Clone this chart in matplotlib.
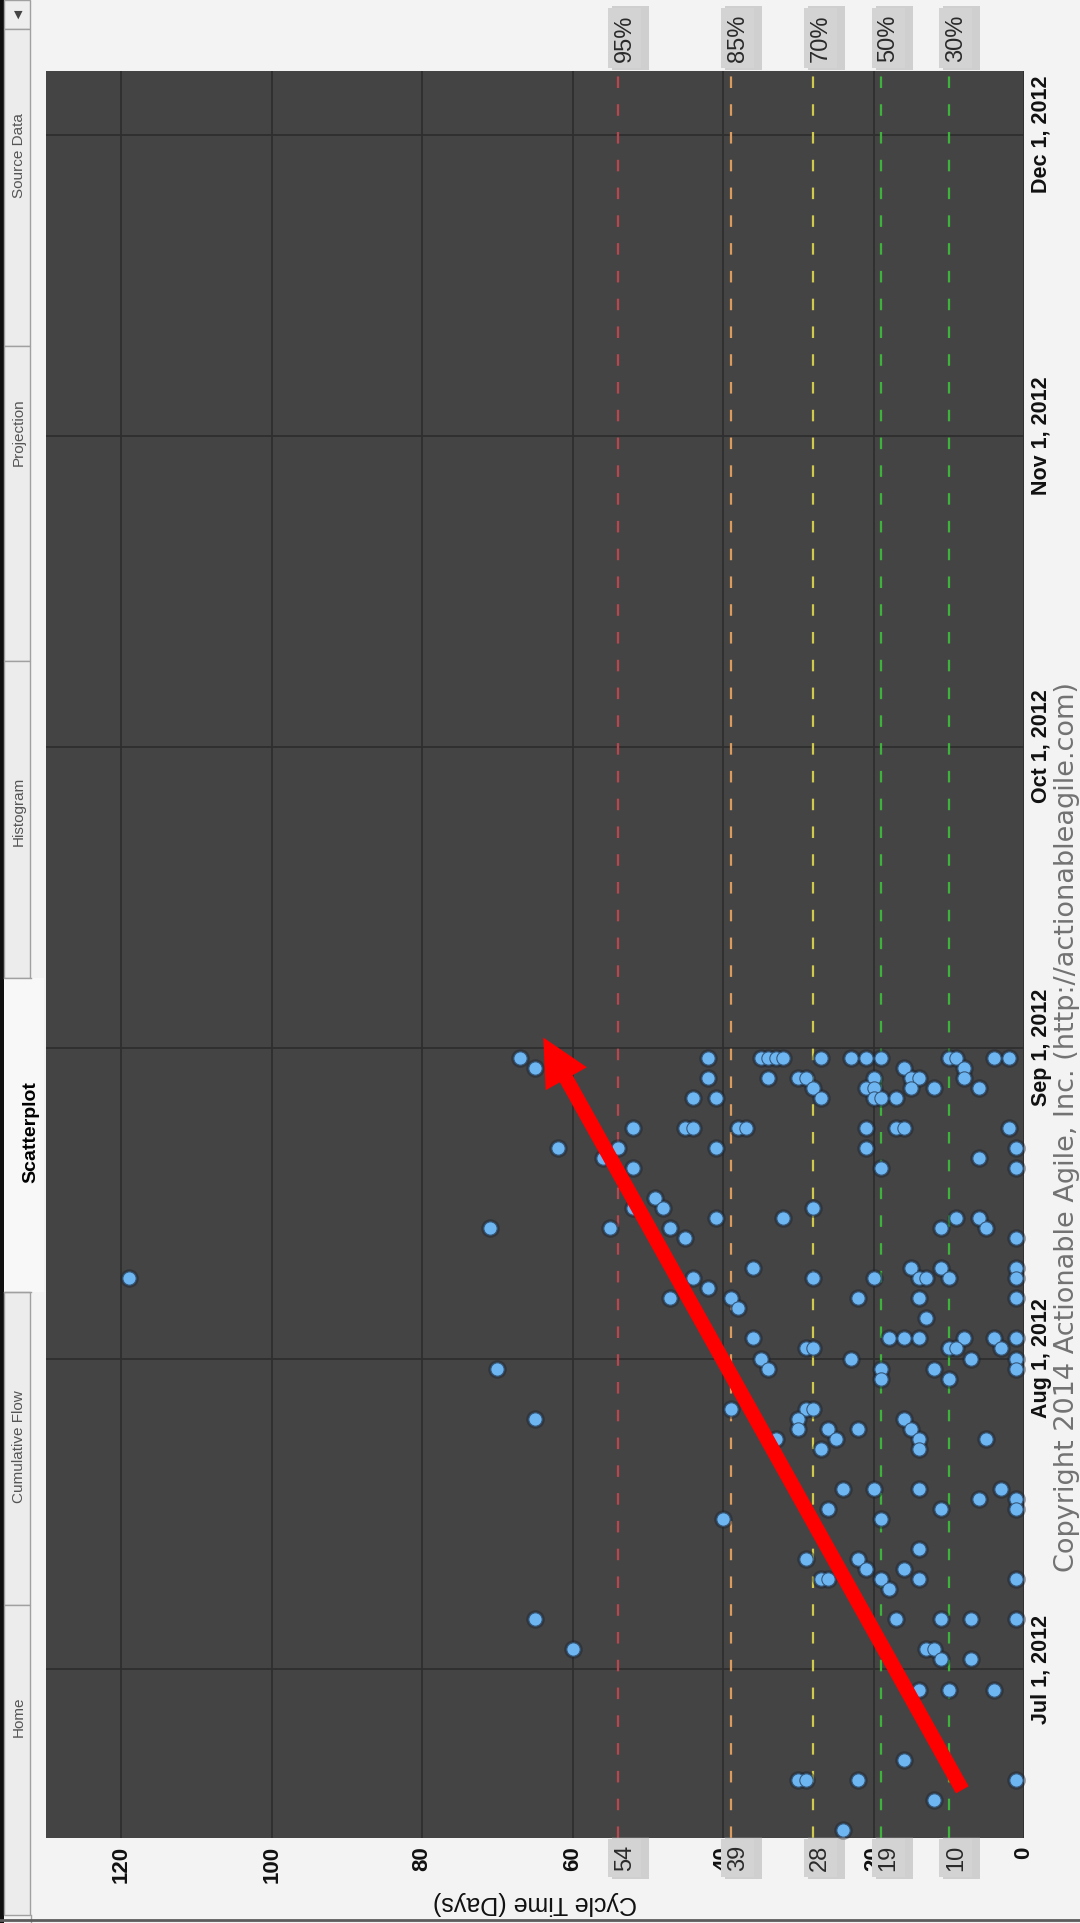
import matplotlib
matplotlib.use("Agg")
import matplotlib.pyplot as plt
import matplotlib.dates as mdates
from matplotlib.patches import Rectangle, FancyArrowPatch, ArrowStyle

# finish day of each group of items, and the cycle times (days) of the items finished that day
finishDays = [
    "2012-08-31", "2012-08-30", "2012-08-29", "2012-08-28", "2012-08-27", "2012-08-24",
    "2012-08-22", "2012-08-21", "2012-08-20", "2012-08-17", "2012-08-16", "2012-08-15",
    "2012-08-14", "2012-08-13", "2012-08-10", "2012-08-09", "2012-08-08", "2012-08-07",
    "2012-08-06", "2012-08-05", "2012-08-03", "2012-08-02", "2012-08-01", "2012-07-31",
    "2012-07-30", "2012-07-27", "2012-07-26", "2012-07-25", "2012-07-24", "2012-07-23",
    "2012-07-19", "2012-07-18", "2012-07-17", "2012-07-16", "2012-07-13", "2012-07-12",
    "2012-07-11", "2012-07-10", "2012-07-09", "2012-07-06", "2012-07-03", "2012-07-02",
    "2012-06-29", "2012-06-22", "2012-06-20", "2012-06-18", "2012-06-15",
]
cycleTimes = [
    [67, 42, 35, 34, 33, 32, 27, 23, 21, 19, 10, 9, 4, 2], [65, 16, 8],
    [42, 34, 30, 29, 20, 15, 14, 8], [28, 21, 20, 15, 12, 6], [44, 41, 27, 20, 19, 17],
    [52, 45, 44, 38, 37, 21, 17, 16, 2],
    [62, 54, 41, 21, 1], [56, 6], [52, 19, 1], [49], [52, 48, 28], [41, 32, 9, 6],
    [71, 55, 47, 11, 5], [45, 1], [36, 15, 11, 1], [119, 44, 28, 20, 14, 13, 10, 1], [42],
    [47, 39, 22, 14, 1],
    [38], [13], [36, 18, 16, 14, 8, 4, 1], [29, 28, 10, 9, 3], [35, 23, 7, 1], [70, 34, 19, 12, 1],
    [19, 10], [39, 29, 28], [65, 30, 16], [30, 26, 22, 15], [33, 25, 14, 5], [27, 14],
    [24, 20, 14, 3], [6, 1], [26, 11, 1], [40, 19], [14], [29, 22],
    [21, 16], [27, 26, 19, 14, 1], [18], [65, 17, 11, 7, 1], [60, 13, 12], [11, 7],
    [14, 10, 4], [16], [30, 29, 22, 1], [12], [24],
]

percentileLabels = ["95%", "85%", "70%", "50%", "30%"]
percentileValues = [54, 39, 28, 19, 10]
percentileColours = ["#b9464f", "#dc9b5e", "#cfca4c", "#3db33b", "#3db33b"]

cycleTicks = [0, 20, 40, 60, 80, 100, 120]
monthTicks = ["2012-07-01", "2012-08-01", "2012-09-01", "2012-10-01", "2012-11-01", "2012-12-01"]
monthLabels = ["Jul 1, 2012", "Aug 1, 2012", "Sep 1, 2012", "Oct 1, 2012", "Nov 1, 2012", "Dec 1, 2012"]

tabNames = ["Source Data", "Projection", "Histogram", "Scatterplot", "Cumulative Flow", "Home"]
selectedTab = "Scatterplot"

# the screenshot is turned a quarter turn, so everything is drawn sideways
W, H = 1080, 1923
plt.rcParams['font.family'] = ['Liberation Sans', 'DejaVu Sans']
narrow = ["Liberation Sans Narrow", "Liberation Sans", "DejaVu Sans"]

xs, ys = [], []
for day, values in zip(finishDays, cycleTimes):
    for v in values:
        xs.append(v)
        ys.append(mdates.datestr2num(day))

fig = plt.figure(figsize=(W / 100, H / 100), dpi=100, facecolor="#f3f3f3")
ax = fig.add_axes([46 / W, 1 - 1838 / H, (1024 - 46) / W, (1838 - 71) / H])
ax.set_facecolor("#444444")
for s in ax.spines.values():
    s.set_visible(False)

jul1 = mdates.datestr2num("2012-07-01")
ax.set_xlim(130, 0)
ax.set_ylim(jul1 - 16.8, jul1 + 159.35)

ax.set_xticks(cycleTicks, labels=[str(v) for v in cycleTicks], rotation=90,
              fontsize=16, fontweight="bold", color="#111111")
ax.yaxis.tick_right()
ax.set_yticks([mdates.datestr2num(m) for m in monthTicks], labels=monthLabels, rotation=90,
              fontsize=15.5, fontweight="bold", color="#111111", va="center", ha="left")
ax.tick_params(axis="x", length=0, pad=6)
ax.tick_params(axis="y", length=0, pad=5)
ax.grid(True, color="#2e2e2e", lw=1.3, zorder=1)
ax.set_axisbelow(True)

for v, c in zip(percentileValues, percentileColours):
    ax.axvline(v, color=c, lw=1.6, ls=(0, (5.2, 7.3)), zorder=2)

# points: dark halo then the blue dot
ax.scatter(xs, ys, s=180, c="#1d2631", alpha=0.45, lw=0, zorder=3, clip_on=False)
ax.scatter(xs, ys, s=92, c="#6db6f2", edgecolors="#35577a", linewidths=0.8, zorder=4, clip_on=False)

# big red trend arrow
arrow = FancyArrowPatch(posA=(8.2, jul1 - 12.0), posB=(63.9, jul1 + 63.0),
                        arrowstyle=ArrowStyle.Simple(head_length=34, head_width=34, tail_width=10.5),
                        mutation_scale=1, shrinkA=0, shrinkB=0, fc="#ff0000", ec="none", zorder=6)
ax.add_patch(arrow)

# overlay in image pixels for the window chrome and the percentile tags
ov = fig.add_axes([0, 0, 1, 1], zorder=10)
ov.set_xlim(0, W)
ov.set_ylim(H, 0)
ov.axis("off")
ov.patch.set_alpha(0)

for lbl, v in zip(percentileLabels, percentileValues):
    px = ax.transData.transform((v, jul1))[0]
    cx = px + 7
    for (y0, h, txt) in [(8, 60, lbl), (1839, 38, str(v))]:
        ov.add_patch(Rectangle((cx - 16.5 + 4, y0 - 2), 37, h + 4, fc="#8c8c8c", ec="none", alpha=0.35))
        ov.add_patch(Rectangle((cx - 16.5, y0), 33, h, fc="#d3d3d3", ec="none"))
        ov.text(cx, y0 + h / 2, txt, rotation=90, ha="center", va="center", fontsize=17, color="#2a2a2a")

# axis title, upside down after the turn
ov.text(535, 1903, "Cycle Time (Days)", rotation=180, ha="center", va="center", fontsize=18, color="#111111")
ov.text(1067, 1127, "Copyright 2014 Actionable Agile, Inc. (http://actionableagile.com)", rotation=90,
        ha="center", va="center", fontsize=19.5, color="#727272", family=["DejaVu Sans"])

# tab strip down the left edge
tabEdges = [29, 346, 661, 978, 1292, 1605, 1915]
tabTextY = [156, 432, 811, 1132, 1447, 1717]
ov.add_patch(Rectangle((0, 0), 4, H, fc="#101010", ec="none"))
ov.add_patch(Rectangle((4, 0), 26, 29, fc="#eeeeee", ec="#a0a0a0", lw=1))
ov.text(18, 15, "▼", ha="center", va="center", fontsize=8, color="#444444", family=["DejaVu Sans"])
for i, name in enumerate(tabNames):
    top, bottom = tabEdges[i], tabEdges[i + 1]
    if name == selectedTab:
        ov.add_patch(Rectangle((4, top), 40, bottom - top, fc="#f8f8f8", ec="none"))
        ov.plot([4, 31], [top, top], color="#a0a0a0", lw=1)
        ov.plot([4, 31], [bottom, bottom], color="#a0a0a0", lw=1)
        ov.text(31, tabTextY[i], name, rotation=90, ha="center", va="center", fontsize=14,
                fontweight="bold", color="#000000")
    else:
        ov.add_patch(Rectangle((4, top), 26, bottom - top, fc="#ececec", ec="#a0a0a0", lw=1))
        ov.text(19, tabTextY[i], name, rotation=90, ha="center", va="center", fontsize=11,
                color="#555555", family=narrow)
ov.plot([31, 31], [1915, H], color="#a0a0a0", lw=1)
ov.plot([0, W], [1920, 1920], color="#5c5c5c", lw=2)

fig.savefig("out.png", dpi=100, facecolor=fig.get_facecolor())
